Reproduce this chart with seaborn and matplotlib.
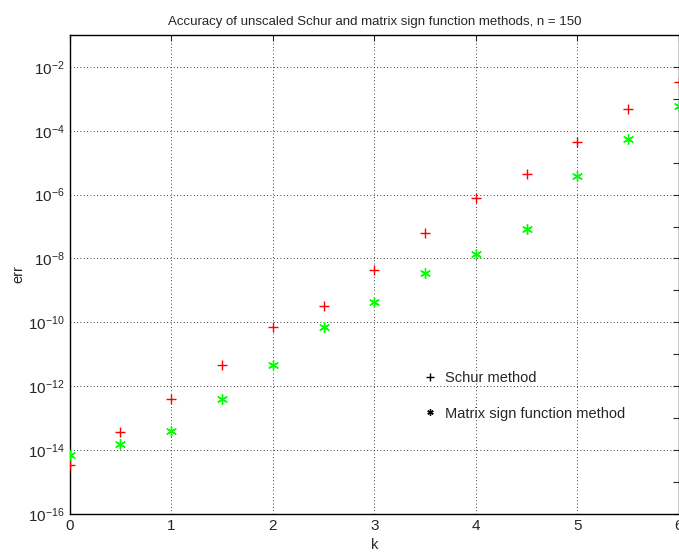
import numpy as np
import pandas as pd
import matplotlib
matplotlib.use('Agg')
import matplotlib.pyplot as plt
from matplotlib.lines import Line2D
import seaborn as sns

# values
k = [0, 0.5, 1, 1.5, 2, 2.5, 3, 3.5, 4, 4.5, 5, 5.5, 6]
err_schur = [3.5e-15, 3.7e-14, 3.9e-13, 4.5e-12, 7.0e-11, 3.3e-10, 4.5e-9,
             6.3e-8, 7.9e-7, 4.5e-6, 4.3e-5, 4.8e-4, 3.4e-3]
err_sign = [7.2e-15, 1.5e-14, 4.0e-14, 4.0e-13, 4.5e-12, 7.3e-11, 4.3e-10,
            3.4e-9, 1.35e-8, 8.5e-8, 3.7e-6, 5.4e-5, 5.9e-4]
major_y = [1e-16, 1e-14, 1e-12, 1e-10, 1e-8, 1e-6, 1e-4, 1e-2]
minor_y = [1e-15, 1e-13, 1e-11, 1e-9, 1e-7, 1e-5, 1e-3]
ytick_labels = [r'$10^{-16}$', r'$10^{-14}$', r'$10^{-12}$', r'$10^{-10}$',
                r'$10^{-8}$', r'$10^{-6}$', r'$10^{-4}$', r'$10^{-2}$']

df = pd.DataFrame({'k': k, 'schur': err_schur, 'sign': err_sign})

sns.set_style('white')
plt.rcParams['font.family'] = ['Liberation Sans', 'DejaVu Sans']
plt.rcParams['mathtext.fontset'] = 'custom'
plt.rcParams['mathtext.rm'] = 'Liberation Sans'
plt.rcParams['mathtext.it'] = 'Liberation Sans'

fig = plt.figure(figsize=(6.79, 5.55), dpi=100)
ax = fig.add_axes([0.1025, 0.074, 0.8975, 0.863])

sns.scatterplot(data=df, x='k', y='schur', marker='+', color='red', s=55,
                linewidth=1.0, ax=ax, zorder=3)
sns.scatterplot(data=df, x='k', y='sign', marker=(6, 2, 0), color='#00ff00', s=50,
                linewidth=1.0, ax=ax, zorder=3)

ax.set_yscale('log')
ax.set_xlim(0, 6)
ax.set_ylim(1e-16, 1e-1)
ax.set_yticks(major_y)
ax.set_yticklabels(ytick_labels)
ax.set_yticks(minor_y, minor=True)
ax.set_xticks(range(0, 7))
ax.tick_params(axis='both', which='both', direction='in', top=True, right=True,
               labelsize=11, length=4, width=0.8)
ax.tick_params(axis='y', which='minor', labelleft=False)
ax.grid(True, which='major', linestyle=(0, (1, 3)), color='black', linewidth=0.6)
for sp in ax.spines.values():
    sp.set_color('black')
    sp.set_linewidth(1.0)

ax.set_xlabel('k', fontsize=10.5, labelpad=4)
ax.set_ylabel('err', fontsize=10.5, labelpad=2)
ax.set_title('Accuracy of unscaled Schur and matrix sign function methods, n = 150',
             fontsize=9.5, pad=7)

handles = [Line2D([], [], linestyle='none', marker='+', color='black', markersize=6),
           Line2D([], [], linestyle='none', marker=(6, 2, 0), color='black', markersize=4.5)]
ax.legend(handles, ['Schur method', 'Matrix sign function method'], frameon=False,
          loc='upper left', bbox_to_anchor=(0.558, 0.325), fontsize=10.5,
          handletextpad=0.5, labelspacing=1.45, handlelength=1.0)

fig.savefig('out.png', dpi=100)
